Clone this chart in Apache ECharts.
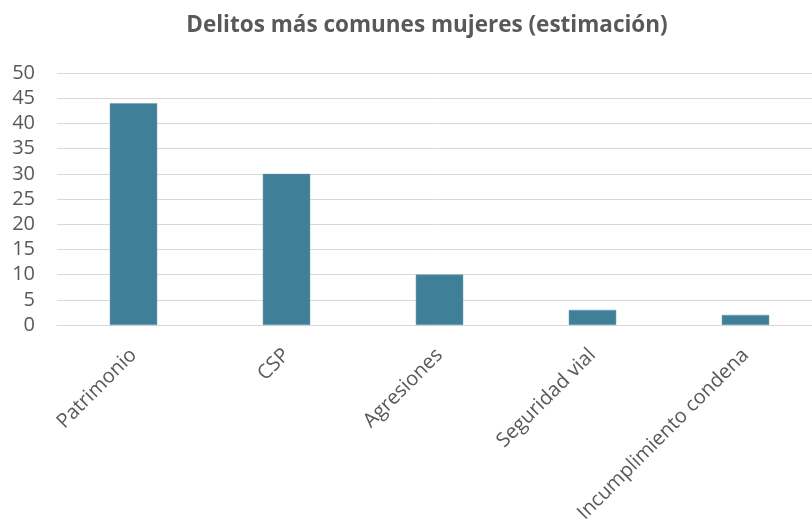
<!DOCTYPE html>
<html>
<head>
<meta charset="utf-8">
<script src="https://cdn.jsdelivr.net/npm/echarts@6/dist/echarts.min.js"></script>
<style>
  html, body { margin: 0; padding: 0; background: #fff; overflow: hidden; width: 812px; height: 528px; }
  /* canvas is a little wider than the page so the plot area continues past the right border */
  #chart { width: 822px; height: 528px; }
</style>
</head>
<body>
<div id="chart"></div>
<script>
// Offence categories and estimated counts
const categories = ['Patrimonio', 'CSP', 'Agresiones', 'Seguridad vial', 'Incumplimiento condena'];
const values = [44, 30, 10, 3, 2];
const yTicks = { min: 0, max: 50, interval: 5 };

const textColor = '#595959';
const fontFamily = '"Open Sans", "Liberation Sans", sans-serif';

const chart = echarts.init(document.getElementById('chart'), null, { renderer: 'canvas' });
chart.setOption({
  animation: false,
  backgroundColor: '#ffffff',
  title: {
    text: 'Delitos más comunes mujeres (estimación)',
    left: 422,
    textAlign: 'center',
    top: 9,
    textStyle: { fontFamily, fontSize: 22.5, fontWeight: 'bold', color: textColor }
  },
  grid: { left: 57, right: 0, top: 73, bottom: 203, containLabel: false },
  xAxis: {
    type: 'category',
    data: categories,
    axisLine: { show: true, lineStyle: { color: '#d9d9d9', width: 1 } },
    axisTick: { show: false },
    axisLabel: {
      rotate: 45,
      margin: 27,
      interval: 0,
      fontFamily, fontSize: 20, color: textColor
    }
  },
  yAxis: {
    type: 'value',
    min: yTicks.min,
    max: yTicks.max,
    interval: yTicks.interval,
    axisLine: { show: false },
    axisTick: { show: false },
    splitLine: { lineStyle: { color: '#d9d9d9', width: 1 } },
    axisLabel: { margin: 22, fontFamily, fontSize: 20, color: textColor }
  },
  series: [{
    type: 'bar',
    data: values,
    barWidth: '31%',
    itemStyle: { color: '#3f7f97', borderColor: '#6a9db0', borderWidth: 0.5 }
  }]
});
</script>
</body>
</html>
